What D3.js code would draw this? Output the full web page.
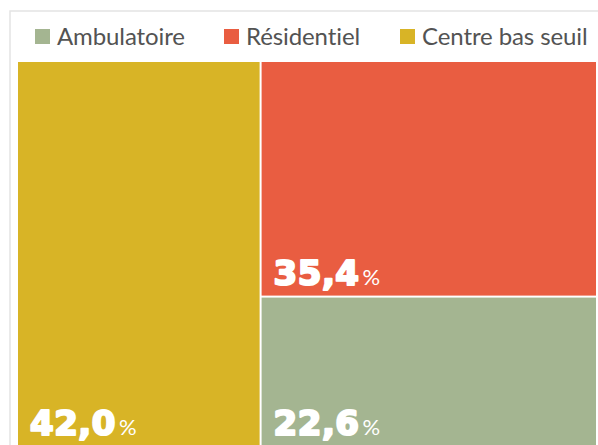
<!DOCTYPE html>
<html><head><meta charset="utf-8">
<script src="https://cdn.jsdelivr.net/npm/d3@7"></script>
<style>html,body{margin:0;padding:0;background:#fff;}svg{display:block;}</style>
</head><body>
<script>
const categories = ["Ambulatoire", "Résidentiel", "Centre bas seuil"];
const values = [22.6, 35.4, 42.0];
const colors = ["#a4b591", "#e95d41", "#d8b426"];

const W = 598, H = 445;
const svg = d3.select("body").append("svg").attr("width", W).attr("height", H);

// frame
svg.append("rect").attr("x", 10).attr("y", 11).attr("width", 600).attr("height", 450)
  .attr("fill", "none").attr("stroke", "#e4e4e4").attr("stroke-width", 1.5);

// legend
const legendX = [35, 224, 400];
const lg = svg.append("g");
categories.forEach((c, i) => {
  const g = lg.append("g").attr("transform", `translate(${legendX[i]},0)`);
  g.append("rect").attr("x", 0).attr("y", 29).attr("width", 15).attr("height", 15).attr("fill", colors[i]);
  g.append("text").attr("x", 22).attr("y", 45).text(c)
    .attr("font-family", "Lato, 'Open Sans', sans-serif").attr("font-size", 24)
    .attr("letter-spacing", -0.1)
    .attr("fill", "#535353");
});

// treemap
const data = {children: categories.map((c, i) => ({name: c, value: values[i], color: colors[i]}))};
const root = d3.hierarchy(data).sum(d => d.value || 0).sort((a, b) => b.value - a.value);
d3.treemap().tile(d3.treemapSquarify.ratio(1)).size([578, 384]).paddingInner(2)(root);

const fmt = v => d3.format(".1f")(v).replace(".", ",");
const tm = svg.append("g").attr("transform", "translate(18,62)");
const cell = tm.selectAll("g").data(root.leaves()).join("g");
cell.append("rect").attr("x", d => d.x0).attr("y", d => d.y0)
  .attr("width", d => d.x1 - d.x0).attr("height", d => d.y1 - d.y0)
  .attr("fill", d => d.data.color);
const t = cell.append("text").attr("x", d => d.x0 + 12).attr("y", d => d.y1 - 11)
  .attr("fill", "#fff");
t.append("tspan").text(d => fmt(d.data.value))
  .attr("font-family", "'DejaVu Sans', sans-serif").attr("font-weight", 900).attr("font-size", 34)
  .attr("stroke", "#fff").attr("stroke-width", 2.2).attr("stroke-linejoin", "round")
  .attr("letter-spacing", 0.5);
t.append("tspan").text("%").attr("dx", 3)
  .attr("font-family", "Lato, sans-serif").attr("font-size", 22).attr("font-weight", 400);
</script>
</body></html>
